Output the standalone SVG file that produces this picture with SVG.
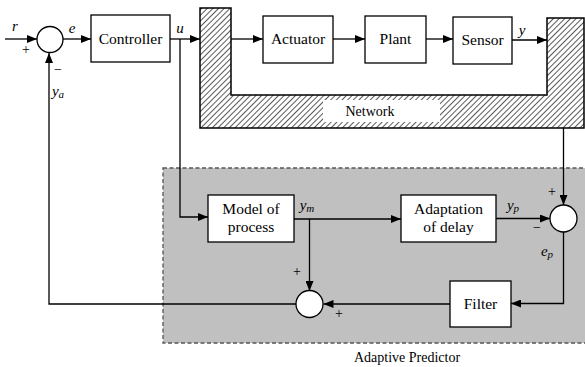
<svg xmlns="http://www.w3.org/2000/svg" width="585" height="367" viewBox="0 0 585 367" font-family="'Liberation Serif', 'Times New Roman', 'DejaVu Serif', serif">
<style>
.box{fill:#fff;stroke:#000;stroke-width:1.3}
.sum{fill:#fff;stroke:#000;stroke-width:1.3}
.ln{fill:none;stroke:#000;stroke-width:1.3}
text{font-family:'Liberation Serif','Times New Roman','DejaVu Serif',serif;fill:#000;text-anchor:middle}
.t{font-size:15.5px}
.i{font-size:15px;font-style:italic}
.s{font-size:14px}
</style>
<defs>
<marker id="ar" viewBox="0 0 10 8" refX="10" refY="4" markerWidth="10" markerHeight="8" markerUnits="userSpaceOnUse" orient="auto">
<path d="M0,0 L10,4 L0,8 Z" fill="#000"/>
</marker>
<pattern id="hatch" width="4" height="4" patternUnits="userSpaceOnUse" patternTransform="rotate(45)">
<line x1="0" y1="0" x2="0" y2="4" stroke="#222" stroke-width="1.5"/>
</pattern>
</defs>
<rect width="585" height="367" fill="#fff"/>

<g id="adaptive-predictor">
<rect x="163" y="168" width="424" height="175" fill="#c0c0c0" stroke="#555" stroke-width="1.3" stroke-dasharray="4,2.5"/>
<text class="s" x="407" y="362" font-family="Liberation Serif, serif">Adaptive Predictor</text>
</g>

<g id="network">
<path d="M200,8 H231 V95 H547 V18 H584 V128 H200 Z" fill="url(#hatch)" stroke="#000" stroke-width="1.5"/>
<rect x="323" y="100" width="117" height="22" fill="#fff"/>
<text class="s" x="370" y="116" font-family="Liberation Serif, serif">Network</text>
</g>

<g id="connectors">
<line class="ln" x1="5" y1="39" x2="37" y2="39" marker-end="url(#ar)"/>
<line class="ln" x1="63" y1="39" x2="91" y2="39" marker-end="url(#ar)"/>
<line class="ln" x1="170" y1="39" x2="200" y2="39" marker-end="url(#ar)"/>
<line class="ln" x1="231" y1="39" x2="263" y2="39" marker-end="url(#ar)"/>
<line class="ln" x1="333" y1="39" x2="365" y2="39" marker-end="url(#ar)"/>
<line class="ln" x1="426" y1="39" x2="453" y2="39" marker-end="url(#ar)"/>
<line class="ln" x1="512" y1="40" x2="547" y2="40" marker-end="url(#ar)"/>
<polyline class="ln" points="180,39 180,217 208,217" marker-end="url(#ar)"/>
<line class="ln" x1="294" y1="219" x2="401" y2="219" marker-end="url(#ar)"/>
<line class="ln" x1="309.5" y1="219" x2="309.5" y2="291" marker-end="url(#ar)"/>
<line class="ln" x1="496" y1="218.5" x2="550" y2="218.5" marker-end="url(#ar)"/>
<line class="ln" x1="563.5" y1="128" x2="563.5" y2="205" marker-end="url(#ar)"/>
<polyline class="ln" points="563.5,232 563.5,303.5 511,303.5" marker-end="url(#ar)"/>
<line class="ln" x1="450" y1="304" x2="323.5" y2="304" marker-end="url(#ar)"/>
<polyline class="ln" points="296,304 49,304 49,53" marker-end="url(#ar)"/>
</g>

<g id="sum1">
<circle class="sum" cx="50" cy="39.5" r="13"/>
<text class="s" x="26" y="54">+</text>
<text class="s" x="58" y="74">−</text>
</g>
<g id="controller">
<rect class="box" x="91" y="15" width="79" height="47"/>
<text class="t" x="130.5" y="44">Controller</text>
</g>
<g id="actuator">
<rect class="box" x="263" y="16" width="70" height="47"/>
<text class="t" x="298" y="44">Actuator</text>
</g>
<g id="plant">
<rect class="box" x="365" y="16" width="61" height="47"/>
<text class="t" x="395.5" y="44">Plant</text>
</g>
<g id="sensor">
<rect class="box" x="453" y="17" width="59" height="47"/>
<text class="t" x="482.5" y="45">Sensor</text>
</g>
<g id="model">
<rect class="box" x="208" y="195" width="86" height="47"/>
<text class="t" x="251" y="214">Model of</text>
<text class="t" x="251" y="232">process</text>
</g>
<g id="adaptation">
<rect class="box" x="401" y="195" width="95" height="47"/>
<text class="t" x="448.5" y="214">Adaptation</text>
<text class="t" x="448.5" y="232">of delay</text>
</g>
<g id="sum3">
<circle class="sum" cx="563.5" cy="218.5" r="13.5"/>
<text class="s" x="552" y="196">+</text>
<text class="s" x="537" y="232">−</text>
</g>
<g id="filter">
<rect class="box" x="450" y="281" width="61" height="46"/>
<text class="t" x="480.5" y="309">Filter</text>
</g>
<g id="sum2">
<circle class="sum" cx="309.5" cy="304" r="13.5"/>
<text class="s" x="297" y="276">+</text>
<text class="s" x="339" y="318">+</text>
</g>

<g id="labels">
<text class="i" x="15" y="31">r</text>
<text class="i" x="72" y="33">e</text>
<text class="i" x="180" y="33">u</text>
<text class="i" x="522" y="35">y</text>
<text class="i" x="58" y="96">y<tspan font-size="11" dy="2">a</tspan></text>
<text class="i" x="307" y="210">y<tspan font-size="11" dy="2">m</tspan></text>
<text class="i" x="513" y="210">y<tspan font-size="11" dy="2">p</tspan></text>
<text class="i" x="547" y="256">e<tspan font-size="11" dy="2">p</tspan></text>
</g>
</svg>
